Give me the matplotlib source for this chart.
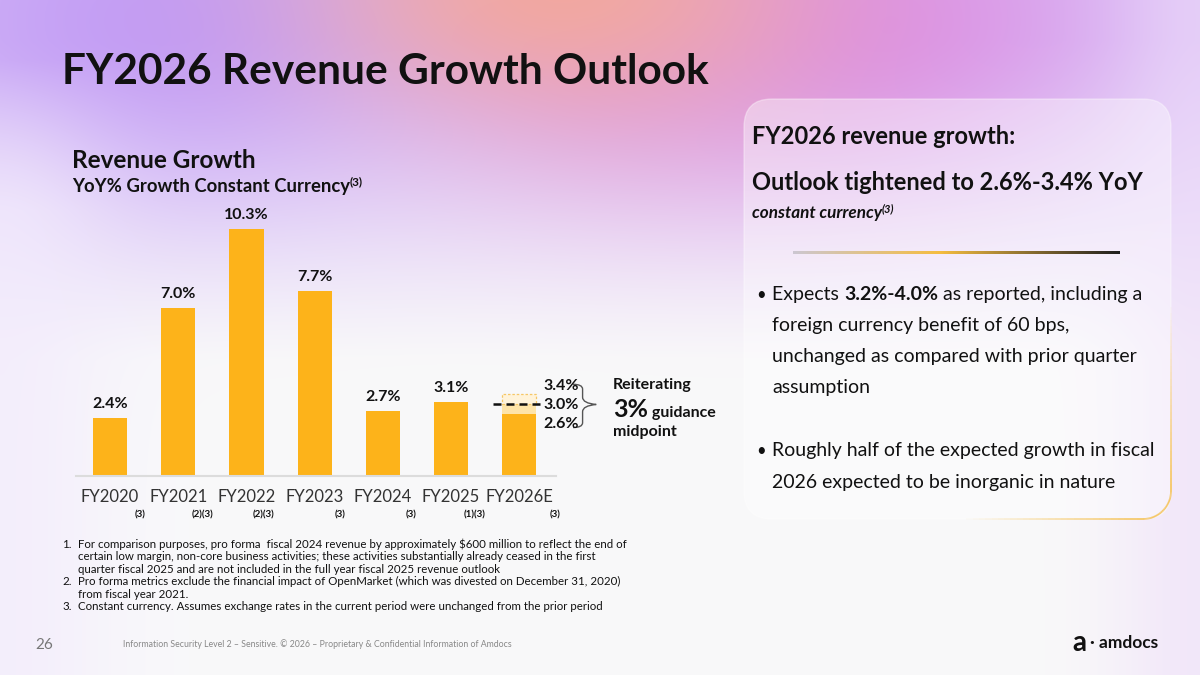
import numpy as np
import matplotlib
matplotlib.use("Agg")
import matplotlib.pyplot as plt
from matplotlib.patches import FancyBboxPatch, PathPatch
from matplotlib.path import Path
from matplotlib.collections import LineCollection
from matplotlib.colors import LinearSegmentedColormap

plt.rcParams['font.family'] = ['Lato', 'DejaVu Sans']

# ---- data ----
years = ['FY2020', 'FY2021', 'FY2022', 'FY2023', 'FY2024', 'FY2025', 'FY2026E']
growth = [2.4, 7.0, 10.3, 7.7, 2.7, 3.1]
notes = ['(3)', '(2)(3)', '(2)(3)', '(3)', '(3)', '(1)(3)', '(3)']
note_shift = [0.44, 0.36, 0.25, 0.37, 0.42, 0.35, 0.53]   # label offsets, in bar units
guide_lo, guide_mid, guide_hi = 2.6, 3.0, 3.4

footnotes = [
    ('1.', 'For comparison purposes, pro forma  fiscal 2024 revenue by approximately $600 million to reflect the end of'),
    ('', 'certain low margin, non-core business activities; these activities substantially already ceased in the first'),
    ('', 'quarter fiscal 2025 and are not included in the full year fiscal 2025 revenue outlook'),
    ('2.', 'Pro forma metrics exclude the financial impact of OpenMarket (which was divested on December 31, 2020)'),
    ('', 'from fiscal year 2021.'),
    ('3.', 'Constant currency. Assumes exchange rates in the current period were unchanged from the prior period'),
]

BAR = '#FDB31A'
LIGHT = '#FEE4A8'
INK = '#111111'

W, H = 1200, 675
fig = plt.figure(figsize=(12, 6.75), dpi=100)

# ---- background (pixel coordinates) ----
bg = fig.add_axes([0, 0, 1, 1])
bg.set_xlim(0, W)
bg.set_ylim(H, 0)
bg.axis('off')

yy, xx = np.mgrid[0:H, 0:W].astype(float)
img = np.ones((H, W, 3)) * np.array([0.976, 0.976, 0.98])

def blend(img, color, weight):
    w = np.clip(weight, 0, 1)[..., None]
    return img * (1 - w) + np.array(color) * w

lav = np.clip(1 - (yy - 40) / 320, 0, 1) ** 1.1
img = blend(img, (0.84, 0.74, 0.97), lav * 0.95)
img = blend(img, (0.74, 0.58, 0.96), np.exp(-((xx - 170) ** 2 / 260 ** 2 + (yy - 20) ** 2 / 170 ** 2)) * 0.8)
img = blend(img, (0.86, 0.55, 0.90), np.exp(-((xx - 850) ** 2 / 260 ** 2 + (yy - 20) ** 2 / 160 ** 2)) * 0.9)
img = blend(img, (0.89, 0.60, 0.82), np.exp(-((xx - 620) ** 2 / 230 ** 2 + (yy - 40) ** 2 / 150 ** 2)) * 0.7)
img = blend(img, (0.95, 0.66, 0.62), np.exp(-((xx - 560) ** 2 / 230 ** 2 + (yy + 10) ** 2 / 110 ** 2)) * 0.95)
img = blend(img, (0.95, 0.92, 0.99), np.exp(-((xx - 0) ** 2 / 110 ** 2)) * np.clip((yy - 60) / 150, 0, 1) * 0.75)
img = blend(img, (0.93, 0.86, 0.98), np.exp(-((xx - 1200) ** 2 / 90 ** 2)) * 0.6)
bg.imshow(img, extent=(0, W, H, 0), aspect='auto', zorder=0)

# right-hand panel
panel = FancyBboxPatch((744, 99), 427, 420, boxstyle='round,pad=0,rounding_size=28',
                       facecolor='white', alpha=0.4, edgecolor='none', zorder=1)
bg.add_patch(panel)
panel_edge = FancyBboxPatch((744, 99), 427, 420, boxstyle='round,pad=0,rounding_size=28',
                            facecolor='none', edgecolor='white', alpha=0.35, lw=1.0, zorder=1)
bg.add_patch(panel_edge)
# golden bottom-right corner
th = np.linspace(0, np.pi / 2, 40)
cx, cy, r = 1171 - 28, 519 - 28, 28
arc = np.column_stack([cx + r * np.cos(th), cy + r * np.sin(th)])
right = np.column_stack([np.full(30, 1171), np.linspace(300, cy, 30)])
bottom = np.column_stack([np.linspace(cx, 960, 30), np.full(30, 519)])
pts = np.vstack([right, arc, bottom])
segs = np.stack([pts[:-1], pts[1:]], axis=1)
fade = np.concatenate([np.linspace(0, 1, 29), np.ones(40), np.linspace(1, 0, 30)])
gold = np.zeros((len(segs), 4))
gold[:, :3] = (0.96, 0.76, 0.33)
gold[:, 3] = fade[:len(segs)] * 0.9
bg.add_collection(LineCollection(segs, colors=gold, lw=1.3, zorder=2))

# gradient divider line
div_cmap = LinearSegmentedColormap.from_list(
    'div', [(0.0, (0.80, 0.78, 0.82)), (0.45, (0.96, 0.74, 0.25)), (1.0, (0.12, 0.12, 0.12))])
bg.imshow(np.linspace(0, 1, 256)[None, :], cmap=div_cmap, extent=(793, 1120, 254.2, 251.8),
          aspect='auto', zorder=2, interpolation='bilinear')

renderer = fig.canvas.get_renderer()

def runs(x, y, parts, ax=bg, **kw):
    # parts: (text, dict of extra kwargs, dy in px)
    for s, extra, dy in parts:
        opts = dict(kw)
        opts.update(extra)
        t = ax.text(x, y + dy, s, va='baseline', ha='left', **opts)
        bb = t.get_window_extent(renderer=renderer)
        x += bb.width

# ---- titles ----
bg.text(62, 84, 'FY2026 Revenue Growth Outlook', fontsize=30.5, fontweight='bold',
        color=INK, va='baseline', zorder=3)
bg.text(72, 168, 'Revenue Growth', fontsize=17.5, fontweight='bold', color=INK,
        va='baseline', zorder=3)
runs(72, 192, [('YoY% Growth Constant Currency', {}, 0),
               ('(3)', {'fontsize': 8.5}, -7)],
     fontsize=13.3, fontweight='bold', color=INK, zorder=3)

bg.text(752, 144, 'FY2026 revenue growth:', fontsize=17, fontweight='bold',
        color=INK, va='baseline', zorder=3)
bg.text(752, 190, 'Outlook tightened to 2.6%-3.4% YoY', fontsize=17,
        fontweight='bold', color=INK, va='baseline', zorder=3)
runs(752, 218, [('constant currency', {}, 0), ('(3)', {'fontsize': 8}, -6)],
     fontsize=12.3, fontweight='bold', fontstyle='italic', color=INK, zorder=3)

# bullets
blines = [
    (300, [('Expects ', {}, 0), ('3.2%-4.0%', {'fontweight': 'bold'}, 0),
           (' as reported, including a', {}, 0)], True),
    (331, [('foreign currency benefit of 60 bps,', {}, 0)], False),
    (362, [('unchanged as compared with prior quarter', {}, 0)], False),
    (393, [('assumption', {}, 0)], False),
    (456, [('Roughly half of the expected growth in fiscal', {}, 0)], True),
    (488, [('2026 expected to be inorganic in nature', {}, 0)], False),
]
for y, parts, bullet in blines:
    if bullet:
        bg.text(756, y, '•', fontsize=12, color=INK, va='baseline', zorder=3)
    runs(772, y, parts, fontsize=14, color=INK, zorder=3)

# footnotes
for i, (num, line) in enumerate(footnotes):
    y = 548 + i * 12.4
    if num:
        bg.text(62, y, num, fontsize=8.3, color=INK, va='baseline', zorder=3)
    bg.text(78, y, line, fontsize=8.3, color=INK, va='baseline', zorder=3)

# footer
bg.text(35, 649, '26', fontsize=11, color='#777777', va='baseline', zorder=3)
bg.text(123, 647, 'Information Security Level 2 \u2013 Sensitive. \u00a9 2026 \u2013 Proprietary & Confidential Information of Amdocs',
        fontsize=6.3, color='#888888', va='baseline', zorder=3)
bg.text(1072, 651, 'a', fontsize=20, fontweight='bold', color=INK, va='baseline', zorder=3)
bg.text(1090, 648, '\u00b7 amdocs', fontsize=12.5, fontweight='bold', color=INK,
        va='baseline', zorder=3)

# ---- bar chart ----
x0, x1 = 76, 556
base, top = 476, 200
ax = fig.add_axes([x0 / W, (H - base) / H, (x1 - x0) / W, (base - top) / H])
ax.patch.set_alpha(0)
ax.set_xlim(-0.5, 6.54)
ax.set_ylim(0, (base - top) / 24.0)
for s in ['top', 'right', 'left']:
    ax.spines[s].set_visible(False)
ax.spines['bottom'].set_color('#DCDCDC')
ax.spines['bottom'].set_linewidth(1.5)
ax.set_yticks([])

xs = np.arange(len(years))
bw = 0.5
ax.bar(xs[:6], growth, width=bw, color=BAR, zorder=2)
for x, v in zip(xs[:6], growth):
    ax.annotate(f'{v:.1f}%', (x, v), xytext=(0, 5), textcoords='offset points',
                ha='center', va='bottom', fontsize=11.5, fontweight='bold', color=INK)

xe = xs[6]
ax.bar(xe, guide_lo, width=bw, color=BAR, zorder=2)
ax.bar(xe, guide_mid - guide_lo, bottom=guide_lo, width=bw, color=LIGHT, zorder=2)
ax.bar(xe, guide_hi - guide_mid, bottom=guide_mid, width=bw, color='#FFF3DA',
       edgecolor='#F6C766', linestyle=(0, (2, 1.5)), linewidth=0.9, zorder=2)
ax.plot([xe - 0.38, xe + 0.33], [guide_mid, guide_mid], color=INK, lw=1.8,
        linestyle=(0, (3.2, 2)), zorder=3, clip_on=False)
# labels spread apart so they don't collide
for v in (guide_hi, guide_mid, guide_lo):
    dy = (v - guide_mid) / 0.4 * 6.8 - 0.5
    ax.annotate(f'{v:.1f}%', (xe + 0.35, v), xytext=(0, dy), textcoords='offset points',
                ha='left', va='center', fontsize=11.5, fontweight='bold', color=INK,
                annotation_clip=False)

# brace
bx = xe + 0.93
yt, yb = guide_hi + 0.42, guide_lo - 0.58
ym = guide_mid - 0.02
hw, tip = 0.14, 0.2
verts = [(bx - hw, yt), (bx, yt), (bx, yt - 0.2), (bx, ym + 0.3), (bx, ym + 0.05),
         (bx + tip, ym), (bx, ym - 0.05), (bx, ym - 0.3), (bx, yb + 0.2), (bx, yb), (bx - hw, yb)]
codes = [Path.MOVETO, Path.CURVE3, Path.CURVE3, Path.LINETO, Path.CURVE3, Path.CURVE3,
         Path.CURVE3, Path.CURVE3, Path.LINETO, Path.CURVE3, Path.CURVE3]
ax.add_patch(PathPatch(Path(verts, codes), facecolor='none', edgecolor='#555555',
                       lw=1.0, clip_on=False))

# guidance text (pixel coordinates)
bg.text(613, 389, 'Reiterating', fontsize=11.5, fontweight='bold', color=INK,
        va='baseline', zorder=3)
runs(613, 417, [('3%', {'fontsize': 18}, 0), (' guidance', {}, 0)],
     fontsize=11.5, fontweight='bold', color=INK, zorder=3)
bg.text(613, 436, 'midpoint', fontsize=11.5, fontweight='bold', color=INK,
        va='baseline', zorder=3)

ax.set_xticks(xs)
ax.set_xticklabels(years, fontsize=12, color='#333333')
ax.tick_params(axis='x', length=0, pad=9)
for x, n, d in zip(xs, notes, note_shift):
    ax.text(x + d, -1.62, n, ha='center', va='center', fontsize=7, fontweight='bold',
            color=INK, clip_on=False)

fig.savefig('out.png', dpi=100)
